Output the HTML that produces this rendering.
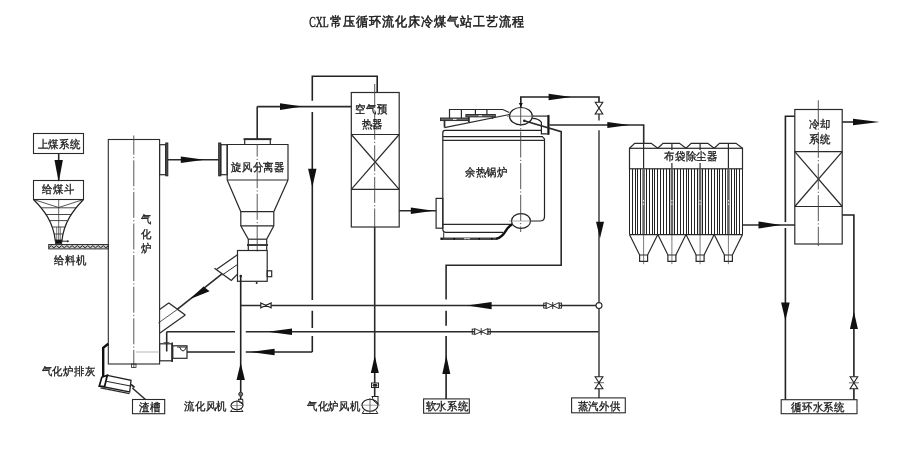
<!DOCTYPE html>
<html><head><meta charset="utf-8"><style>
html,body{margin:0;padding:0;background:#fff;}
svg{display:block;will-change:transform;}
text{font-family:"Liberation Serif",serif;fill:#1a1a1a;stroke:#1a1a1a;stroke-width:0.32px;}
</style></head><body>
<svg width="900" height="451" viewBox="0 0 900 451">
<rect width="900" height="451" fill="#fff"/>
<text x="309.3" y="26.6" font-size="14.5" textLength="19.5" lengthAdjust="spacingAndGlyphs" style="stroke-width:0.45px">CXL</text>
<text transform="translate(330.3,26.0) scale(0.93,1)" font-size="13.2" textLength="209" lengthAdjust="spacing" style="stroke-width:0.5px">常压循环流化床冷煤气站工艺流程</text>
<rect x="33.5" y="133.5" width="50" height="20" fill="none" stroke="#2a2a2a" stroke-width="1.1"/>
<text transform="translate(59,148.3) scale(0.945,1)" font-size="11" text-anchor="middle">上煤系统</text>
<line x1="58.7" y1="153.5" x2="58.7" y2="180.5" stroke="#2a2a2a" stroke-width="1.6"/>
<polygon points="54.5,160 58.7,182 62.9,160" fill="#111"/>
<rect x="33.5" y="180.5" width="50" height="19" fill="none" stroke="#2a2a2a" stroke-width="1.1"/>
<text transform="translate(58.5,192.8) scale(0.945,1)" font-size="11" text-anchor="middle">给煤斗</text>
<path d="M33.5,199.5 C44,210 53.5,222 55.4,241.5" fill="none" stroke="#222" stroke-width="1.2"/>
<path d="M83.5,199.5 C73.4,210 63.8,222 61.8,241.5" fill="none" stroke="#222" stroke-width="1.2"/>
<polyline points="33.5,199.5 58.7,207.5 83.5,199.5" fill="none" stroke="#2a2a2a" stroke-width="0.8"/>
<line x1="58.7" y1="199.5" x2="58.7" y2="241" stroke="#2a2a2a" stroke-width="0.7"/>
<line x1="41.1" y1="207.8" x2="76.1" y2="207.8" stroke="#333" stroke-width="0.9"/>
<line x1="46.1" y1="214.5" x2="71.2" y2="214.5" stroke="#333" stroke-width="0.9"/>
<line x1="49.5" y1="220.6" x2="67.8" y2="220.6" stroke="#333" stroke-width="0.9"/>
<line x1="52.2" y1="227" x2="65" y2="227" stroke="#333" stroke-width="0.9"/>
<line x1="54.2" y1="234" x2="63" y2="234" stroke="#333" stroke-width="0.9"/>
<line x1="56.7" y1="227" x2="56.7" y2="240" stroke="#444" stroke-width="0.7"/>
<line x1="60.3" y1="227" x2="60.3" y2="240" stroke="#444" stroke-width="0.7"/>
<rect x="55.4" y="240" width="6.4" height="3.5" fill="#111" stroke="#222" stroke-width="0.8"/>
<line x1="61.8" y1="241.2" x2="67.6" y2="241.2" stroke="#2a2a2a" stroke-width="1"/>
<circle cx="67.8" cy="241.2" r="1" fill="#222"/>
<rect x="48.7" y="244.5" width="59.6" height="4.4" fill="#ccc" stroke="#333" stroke-width="1"/>
<polyline points="48.7,247.8 51.3,245.6 53.9,247.8 56.5,245.6 59.1,247.8 61.7,245.6 64.3,247.8 66.9,245.6 69.5,247.8 72.1,245.6 74.7,247.8 77.3,245.6 79.9,247.8 82.5,245.6 85.1,247.8 87.7,245.6 90.3,247.8 92.9,245.6 95.5,247.8 98.1,245.6 100.7,247.8 103.3,245.6 105.9,247.8 108.5,245.6" fill="none" stroke="#222" stroke-width="1"/>
<text transform="translate(70.5,263.8) scale(0.945,1)" font-size="11" text-anchor="middle">给料机</text>
<rect x="108.3" y="139.5" width="51.3" height="224.5" fill="none" stroke="#2a2a2a" stroke-width="1.1"/>
<line x1="133.8" y1="135.5" x2="133.8" y2="368" stroke="#444" stroke-width="0.9" stroke-dasharray="26,2.2,1.2,2.2" stroke-dashoffset="6.8"/>
<text transform="translate(146.2,222.6) scale(0.945,1)" font-size="11" text-anchor="middle">气</text>
<text transform="translate(146.2,237.6) scale(0.945,1)" font-size="11" text-anchor="middle">化</text>
<text transform="translate(146.2,251.9) scale(0.945,1)" font-size="11" text-anchor="middle">炉</text>
<rect x="159.6" y="144.7" width="6.2" height="30" fill="none" stroke="#2a2a2a" stroke-width="1.2"/>
<rect x="165.8" y="143" width="2" height="32.8" fill="#555" stroke="#222" stroke-width="1"/>
<line x1="167.8" y1="159.7" x2="218.7" y2="159.7" stroke="#2a2a2a" stroke-width="1.6"/>
<polygon points="180.8,156.5 204.5,159.7 180.8,162.9" fill="#111"/>
<rect x="131.5" y="364" width="4.5" height="3.5" fill="none" stroke="#2a2a2a" stroke-width="0.8"/>
<rect x="159.6" y="343.8" width="12.4" height="17" fill="none" stroke="#2a2a2a" stroke-width="1.2"/>
<line x1="172.2" y1="342.5" x2="172.2" y2="362" stroke="#2a2a2a" stroke-width="1.6"/>
<rect x="172.8" y="345.8" width="14.2" height="12.5" fill="none" stroke="#2a2a2a" stroke-width="1.2"/>
<path d="M179.5,347 Q183,355 186.5,347" fill="none" stroke="#222" stroke-width="1"/>
<line x1="177" y1="347" x2="187" y2="347" stroke="#2a2a2a" stroke-width="1"/>
<line x1="166.7" y1="331.7" x2="166.7" y2="351.5" stroke="#2a2a2a" stroke-width="1.6"/>
<line x1="163.5" y1="342.5" x2="169.5" y2="342.5" stroke="#2a2a2a" stroke-width="0.7"/>
<line x1="136" y1="352" x2="159.6" y2="352" stroke="#999" stroke-width="0.7"/>
<polyline points="108.3,343.8 103.2,347.8 103.2,378" fill="none" stroke="#111" stroke-width="2.4"/>
<polygon points="107.3,375.3 131,380.3 129.7,392 99.3,386" fill="none" stroke="#222" stroke-width="1.3"/>
<polygon points="101.8,377.3 107.3,375.3 104.6,386.5 99.3,386" fill="#fff" stroke="#111" stroke-width="1.7"/>
<line x1="106" y1="381.3" x2="130.5" y2="386" stroke="#2a2a2a" stroke-width="1.1"/>
<line x1="100.5" y1="387.9" x2="129.5" y2="393.6" stroke="#2a2a2a" stroke-width="1.2"/>
<line x1="131" y1="384.3" x2="134.5" y2="387.5" stroke="#2a2a2a" stroke-width="1.8"/>
<line x1="132.3" y1="388" x2="145.5" y2="399.5" stroke="#2a2a2a" stroke-width="1.5"/>
<rect x="132.5" y="399.5" width="32.2" height="14.2" fill="none" stroke="#2a2a2a" stroke-width="1.1"/>
<text transform="translate(150.1,410.8) scale(0.945,1)" font-size="11" text-anchor="middle">渣槽</text>
<text transform="translate(68.5,375.3) scale(0.945,1)" font-size="11" text-anchor="middle">气化炉排灰</text>
<rect x="218.7" y="143" width="2.1" height="32.8" fill="#555" stroke="#222" stroke-width="1"/>
<rect x="220.8" y="144.7" width="6.4" height="30" fill="none" stroke="#2a2a2a" stroke-width="1.2"/>
<polyline points="227.2,180 227.2,144.5 288,144.5 288,180" fill="none" stroke="#2a2a2a" stroke-width="1.2"/>
<line x1="227.2" y1="180" x2="288" y2="180" stroke="#2a2a2a" stroke-width="1.2"/>
<polyline points="244.7,144.5 244.7,139.2 270.3,139.2 270.3,144.5" fill="none" stroke="#2a2a2a" stroke-width="1.2"/>
<line x1="243.5" y1="139.2" x2="271.5" y2="139.2" stroke="#2a2a2a" stroke-width="1.8"/>
<polyline points="227.2,180 240.8,211.7 240.8,225.8 248.3,239.2 248.3,250.5" fill="none" stroke="#2a2a2a" stroke-width="1.2"/>
<polyline points="288,180 273.8,211.7 273.8,225.8 266.7,239.2 266.7,250.5" fill="none" stroke="#2a2a2a" stroke-width="1.2"/>
<line x1="240.8" y1="211.7" x2="273.8" y2="211.7" stroke="#2a2a2a" stroke-width="1.2"/>
<line x1="240.8" y1="225.8" x2="273.8" y2="225.8" stroke="#2a2a2a" stroke-width="1.2"/>
<line x1="248.3" y1="239.2" x2="266.7" y2="239.2" stroke="#2a2a2a" stroke-width="1.2"/>
<line x1="247" y1="245" x2="268" y2="245" stroke="#2a2a2a" stroke-width="1.8"/>
<line x1="257.2" y1="144.5" x2="257.2" y2="252" stroke="#444" stroke-width="0.9" stroke-dasharray="26,2.2,1.2,2.2" stroke-dashoffset="13.9"/>
<text transform="translate(258,171.3) scale(0.945,1)" font-size="11" text-anchor="middle">旋风分离器</text>
<rect x="237.5" y="250.5" width="29.7" height="30.8" fill="none" stroke="#2a2a2a" stroke-width="1.2"/>
<rect x="267.2" y="270.8" width="4.5" height="5.9" fill="none" stroke="#2a2a2a" stroke-width="1.2"/>
<circle cx="256.7" cy="283" r="1" fill="#222"/>
<circle cx="240.8" cy="276" r="1.3" fill="#222"/>
<polyline points="237.5,254.7 216.7,269.2" fill="none" stroke="#2a2a2a" stroke-width="1.2"/>
<polyline points="237.5,264.5 222.5,274.8" fill="none" stroke="#2a2a2a" stroke-width="1"/>
<polyline points="237.5,274.2 231.7,280" fill="none" stroke="#2a2a2a" stroke-width="1.2"/>
<line x1="214.5" y1="268.2" x2="231.7" y2="280.8" stroke="#2a2a2a" stroke-width="1.4"/>
<line x1="159.6" y1="309.5" x2="168.7" y2="303" stroke="#2a2a2a" stroke-width="1.2"/>
<line x1="158.3" y1="323" x2="178" y2="309" stroke="#2a2a2a" stroke-width="0.8"/>
<line x1="159.6" y1="333.3" x2="185.3" y2="315" stroke="#2a2a2a" stroke-width="1.2"/>
<line x1="168.5" y1="302.8" x2="185.3" y2="315" stroke="#2a2a2a" stroke-width="1.4"/>
<line x1="221.7" y1="274.2" x2="177.5" y2="309.2" stroke="#2a2a2a" stroke-width="1.6"/>
<polygon points="190.3,299 203.5,286.4 209.6,291.2" fill="#111"/>
<line x1="257.2" y1="139.2" x2="257.2" y2="106.6" stroke="#2a2a2a" stroke-width="1.6"/>
<line x1="257.2" y1="106.6" x2="351.3" y2="106.6" stroke="#2a2a2a" stroke-width="1.6"/>
<polygon points="280,103.3 302.3,106.6 280,109.9" fill="#111"/>
<path d="M312.3,352 V336 M312.3,328 V310.7 M312.3,300 V112 M312.3,100.8 V76.2 H377.2 V92.5" fill="none" stroke="#222" stroke-width="1.6"/>
<polygon points="308.1,168.7 312.3,187.3 316.5,168.7" fill="#111"/>
<path d="M187,352 H235 M245.8,352 H312.3" fill="none" stroke="#222" stroke-width="1.6"/>
<polygon points="274.6,348.7 250.5,352 274.6,355.3" fill="#111"/>
<rect x="351.3" y="92.5" width="47.9" height="134.5" fill="none" stroke="#2a2a2a" stroke-width="1.2"/>
<line x1="351.3" y1="134.5" x2="399.2" y2="134.5" stroke="#2a2a2a" stroke-width="1.2"/>
<line x1="351.3" y1="189.3" x2="399.2" y2="189.3" stroke="#2a2a2a" stroke-width="1.2"/>
<line x1="351.3" y1="134.5" x2="399.2" y2="189.3" stroke="#2a2a2a" stroke-width="1.2"/>
<line x1="399.2" y1="134.5" x2="351.3" y2="189.3" stroke="#2a2a2a" stroke-width="1.2"/>
<line x1="374.7" y1="84" x2="374.7" y2="227" stroke="#444" stroke-width="0.9" stroke-dasharray="26,2.2,1.2,2.2" stroke-dashoffset="1.9"/>
<line x1="374.7" y1="227" x2="374.7" y2="396.5" stroke="#2a2a2a" stroke-width="1.6"/>
<text transform="translate(371.5,112.8) scale(0.945,1)" font-size="11" text-anchor="middle">空气预</text>
<text transform="translate(372.2,127.8) scale(0.945,1)" font-size="11" text-anchor="middle">热器</text>
<line x1="399.2" y1="210.8" x2="436.1" y2="210.8" stroke="#2a2a2a" stroke-width="1.6"/>
<polygon points="410.8,207.5 433.5,210.8 410.8,214.1" fill="#111"/>
<polygon points="370.8,373 374.8,355.8 378.8,373" fill="#111"/>
<rect x="371.5" y="383" width="7" height="4.5" fill="#fff" stroke="#222" stroke-width="1"/>
<ellipse cx="375" cy="385.3" rx="2.6" ry="1.5" fill="#222"/>
<path d="M371.5,396.5 H378.5 M372.5,396.5 Q372,401 377.8,404 M378,396.5 V405" fill="none" stroke="#222" stroke-width="1"/>
<ellipse cx="370" cy="405.2" rx="8" ry="6" fill="none" stroke="#222" stroke-width="1.1"/>
<line x1="360.5" y1="405.2" x2="380" y2="405.2" stroke="#666" stroke-width="0.6"/>
<line x1="370" y1="398" x2="370" y2="413" stroke="#444" stroke-width="0.8"/>
<polyline points="364,410.5 362.2,413.5 377.8,413.5 376,410.5" fill="none" stroke="#2a2a2a" stroke-width="1"/>
<text transform="translate(333.7,409.8) scale(0.945,1)" font-size="11" text-anchor="middle">气化炉风机</text>
<path d="M240.7,276 V392.5 M240.7,396 V399.5" fill="none" stroke="#222" stroke-width="1.6"/>
<polygon points="236.5,380 240.7,362.7 244.9,380" fill="#111"/>
<path d="M166.7,331.7 H235 M245.8,331.7 H598.5" fill="none" stroke="#2a2a2a" stroke-width="1.4"/>
<polygon points="292,328.4 267.8,331.7 292,335" fill="#111"/>
<path d="M240.8,305.5 H599" fill="none" stroke="#2a2a2a" stroke-width="1.3"/>
<polygon points="260.8,303 271.1,307.9 271.1,303 260.8,307.9" fill="#fff" stroke="#222" stroke-width="1.2"/>
<circle cx="240.7" cy="394.2" r="2" fill="#777" stroke="#222" stroke-width="0.9"/>
<path d="M238,399.3 H243 M238.5,399.3 Q238,402.5 242.5,404 M242.8,399.3 V405" fill="none" stroke="#222" stroke-width="1"/>
<ellipse cx="237" cy="405.5" rx="6" ry="4.2" fill="none" stroke="#222" stroke-width="1.1"/>
<line x1="230" y1="405.5" x2="244" y2="405.5" stroke="#666" stroke-width="0.6"/>
<line x1="237" y1="400" x2="237" y2="412" stroke="#444" stroke-width="0.8"/>
<polyline points="232,409.5 230.5,411.5 243,411.5 241.5,409.5" fill="none" stroke="#2a2a2a" stroke-width="1"/>
<text transform="translate(205.5,410.3) scale(0.945,1)" font-size="11" text-anchor="middle">流化风机</text>
<path d="M503,232.3 H446 Q442.8,232.3 442.8,229 V133 Q442.8,130.3 445,130.3 H541 M442.8,136.7 H542.3 L544.5,138.9 V216.5 Q544.5,221 540,221 H530.5" fill="none" stroke="#222" stroke-width="1.2"/>
<line x1="442.8" y1="140.4" x2="544.5" y2="140.4" stroke="#2a2a2a" stroke-width="1.2"/>
<line x1="442.8" y1="224.3" x2="512" y2="224.3" stroke="#2a2a2a" stroke-width="1.2"/>
<line x1="444.5" y1="127.6" x2="509.5" y2="114.5" stroke="#2a2a2a" stroke-width="1.2"/>
<polyline points="449.5,118 449.5,109.5 502.8,109.5 509.3,112.5" fill="none" stroke="#2a2a2a" stroke-width="1.2"/>
<line x1="461.4" y1="109.5" x2="461.4" y2="118" stroke="#2a2a2a" stroke-width="1.2"/>
<line x1="475.4" y1="109.5" x2="475.4" y2="114.5" stroke="#2a2a2a" stroke-width="1.2"/>
<line x1="486.9" y1="109.5" x2="486.9" y2="114.5" stroke="#2a2a2a" stroke-width="1.2"/>
<rect x="440.5" y="118" width="27.9" height="2.6" fill="#666" stroke="#222" stroke-width="0.9"/>
<rect x="465.9" y="114.5" width="29.4" height="2.4" fill="#666" stroke="#222" stroke-width="0.9"/>
<rect x="453" y="118.9" width="3.5" height="0.9" fill="#fff"/>
<rect x="478.5" y="115.3" width="3.5" height="0.9" fill="#fff"/>
<line x1="444.5" y1="120.6" x2="444.5" y2="127.4" stroke="#2a2a2a" stroke-width="1.7"/>
<line x1="468.9" y1="116.9" x2="468.9" y2="122.4" stroke="#2a2a2a" stroke-width="1.7"/>
<line x1="492.4" y1="116.9" x2="492.4" y2="118.8" stroke="#2a2a2a" stroke-width="1.5"/>
<path d="M532.3,118.3 Q539,118.5 541.4,122.3 V133.8 H547.6" fill="none" stroke="#222" stroke-width="1.2"/>
<line x1="532.5" y1="116.1" x2="547.6" y2="116.1" stroke="#2a2a2a" stroke-width="1.2"/>
<rect x="547.6" y="115.2" width="1.6" height="19.5" fill="#111" stroke="#222" stroke-width="0.5"/>
<ellipse cx="520.9" cy="116.2" rx="11.4" ry="8.7" fill="#fff" stroke="#222" stroke-width="1.2"/>
<ellipse cx="521" cy="221" rx="9.5" ry="7.3" fill="#fff" stroke="#222" stroke-width="1.2"/>
<line x1="520.7" y1="100" x2="520.7" y2="232" stroke="#444" stroke-width="0.9" stroke-dasharray="26,2.2,1.2,2.2" stroke-dashoffset="0"/>
<line x1="507" y1="116.2" x2="534" y2="116.2" stroke="#555" stroke-width="0.8"/>
<line x1="509" y1="221" x2="532" y2="221" stroke="#777" stroke-width="0.6"/>
<rect x="436.1" y="198.4" width="6.7" height="29.8" fill="none" stroke="#2a2a2a" stroke-width="1.2"/>
<line x1="440.3" y1="238.8" x2="497" y2="238.8" stroke="#444" stroke-width="2.4"/>
<line x1="441" y1="238.8" x2="497" y2="238.8" stroke="#000" stroke-width="1.6" stroke-dasharray="1.5,11"/>
<rect x="464" y="238.2" width="6" height="1" fill="#ddd"/>
<path d="M512.3,224.3 C505,227 506,237 496.3,238.8" fill="none" stroke="#111" stroke-width="2.4"/>
<line x1="443.7" y1="232.3" x2="443.7" y2="238" stroke="#2a2a2a" stroke-width="1"/>
<text transform="translate(486.3,176.3) scale(0.945,1)" font-size="11" text-anchor="middle">余热锅炉</text>
<path d="M520.8,107.5 V97 H599 V102" fill="none" stroke="#222" stroke-width="1.6"/>
<polygon points="548.6,93.7 571.2,97 548.6,100.3" fill="#111"/>
<polygon points="518.8,103 522.8,103 520.8,107" fill="#111"/>
<line x1="549.4" y1="125" x2="643.7" y2="125" stroke="#2a2a2a" stroke-width="1.6"/>
<line x1="643.7" y1="124.4" x2="643.7" y2="143.4" stroke="#2a2a2a" stroke-width="1.6"/>
<polygon points="607.3,121.9 629.5,125 607.3,128.1" fill="#111"/>
<polyline points="524.2,120.8 561.2,131.7 561.2,265.3 446.1,265.3 446.1,299.6" fill="none" stroke="#2a2a2a" stroke-width="1.6"/>
<circle cx="524.2" cy="120.8" r="1.2" fill="#222"/>
<path d="M446.1,310.8 V325.7 M446.1,336 V398.9" fill="none" stroke="#222" stroke-width="1.6"/>
<polygon points="442.3,374 446.3,355.5 450.3,374" fill="#111"/>
<rect x="423.6" y="398.9" width="45.7" height="14.3" fill="none" stroke="#2a2a2a" stroke-width="1.1"/>
<text transform="translate(447,410.3) scale(0.945,1)" font-size="11" text-anchor="middle">软水系统</text>
<polygon points="491.6,302 467,305.6 491.6,309.2" fill="#111"/>
<g stroke="#222" stroke-width="0.9" fill="none"><rect x="543.7" y="303.1" width="2.5" height="5"/><rect x="559.1" y="303.1" width="2.5" height="5"/><polygon points="546.2,302.6 559.1,308.6 559.1,302.6 546.2,308.6" fill="#fff"/><line x1="552.7" y1="302.1" x2="552.7" y2="309.1"/></g>
<g stroke="#222" stroke-width="0.9" fill="none"><rect x="472.2" y="329.1" width="2.5" height="5"/><rect x="487.8" y="329.1" width="2.5" height="5"/><polygon points="474.7,328.6 487.8,334.6 487.8,328.6 474.7,334.6" fill="#fff"/><line x1="481.2" y1="328.1" x2="481.2" y2="335.1"/></g>
<path d="M599,114 V120.5 M599,130.2 V302.3 M599,308.9 V397.9" fill="none" stroke="#2a2a2a" stroke-width="1.35"/>
<polygon points="595.2,102.2 602.8,114 595.2,114 602.8,102.2" fill="#fff" stroke="#222" stroke-width="1.1"/>
<polygon points="596,221.7 600,238.2 604,221.7" fill="#111"/>
<circle cx="599" cy="305.6" r="3" fill="#fff" stroke="#2a2a2a" stroke-width="1.1"/>
<polygon points="595.1,376.7 602.9,388.7 595.1,388.7 602.9,376.7" fill="#fff" stroke="#222" stroke-width="1.1"/>
<line x1="594" y1="382.7" x2="604" y2="382.7" stroke="#2a2a2a" stroke-width="0.7"/>
<rect x="571.6" y="397.9" width="53.7" height="14.9" fill="none" stroke="#2a2a2a" stroke-width="1.1"/>
<text transform="translate(599,409.8) scale(0.945,1)" font-size="11" text-anchor="middle">蒸汽外供</text>
<polyline points="629.5,148.3 634.7,143.3 651.2,143.3 657.8,148.3" fill="none" stroke="#2a2a2a" stroke-width="1.2"/>
<polyline points="657.8,148.3 663,143.3 679.5,143.3 686,148.3" fill="none" stroke="#2a2a2a" stroke-width="1.2"/>
<polyline points="686,148.3 691.2,143.3 707.8,143.3 714.2,148.3" fill="none" stroke="#2a2a2a" stroke-width="1.2"/>
<polyline points="714.2,148.3 719.5,143.3 736,143.3 742.5,148.3" fill="none" stroke="#2a2a2a" stroke-width="1.2"/>
<rect x="629.5" y="148.3" width="113" height="20.5" fill="none" stroke="#2a2a2a" stroke-width="1.2"/>
<line x1="643.6" y1="143.3" x2="643.6" y2="168.8" stroke="#2a2a2a" stroke-width="1.2"/>
<line x1="671.9" y1="143.3" x2="671.9" y2="168.8" stroke="#2a2a2a" stroke-width="1.2"/>
<line x1="700.1" y1="143.3" x2="700.1" y2="168.8" stroke="#2a2a2a" stroke-width="1.2"/>
<line x1="728.4" y1="143.3" x2="728.4" y2="168.8" stroke="#2a2a2a" stroke-width="1.2"/>
<line x1="629.5" y1="168.8" x2="629.5" y2="234.6" stroke="#222" stroke-width="1"/>
<line x1="632.5" y1="168.8" x2="632.5" y2="234.6" stroke="#222" stroke-width="1"/>
<line x1="635.5" y1="168.8" x2="635.5" y2="234.6" stroke="#222" stroke-width="1"/>
<line x1="637.5" y1="168.8" x2="637.5" y2="234.6" stroke="#222" stroke-width="1"/>
<line x1="640.5" y1="168.8" x2="640.5" y2="234.6" stroke="#222" stroke-width="1"/>
<rect x="642.3" y="168.8" width="2.6" height="65.8" fill="#666"/>
<rect x="643.2" y="200" width="0.8" height="1.5" fill="#fff"/>
<rect x="643.2" y="203.5" width="0.8" height="1.5" fill="#fff"/>
<line x1="646.5" y1="168.8" x2="646.5" y2="234.6" stroke="#222" stroke-width="1"/>
<line x1="649.5" y1="168.8" x2="649.5" y2="234.6" stroke="#222" stroke-width="1"/>
<line x1="652.5" y1="168.8" x2="652.5" y2="234.6" stroke="#222" stroke-width="1"/>
<line x1="654.5" y1="168.8" x2="654.5" y2="234.6" stroke="#222" stroke-width="1"/>
<line x1="657.5" y1="168.8" x2="657.5" y2="234.6" stroke="#222" stroke-width="1"/>
<line x1="660.5" y1="168.8" x2="660.5" y2="234.6" stroke="#222" stroke-width="1"/>
<line x1="663.5" y1="168.8" x2="663.5" y2="234.6" stroke="#222" stroke-width="1"/>
<line x1="666.5" y1="168.8" x2="666.5" y2="234.6" stroke="#222" stroke-width="1"/>
<line x1="669.5" y1="168.8" x2="669.5" y2="234.6" stroke="#222" stroke-width="1"/>
<rect x="670.6" y="168.8" width="2.6" height="65.8" fill="#666"/>
<rect x="671.5" y="200" width="0.8" height="1.5" fill="#fff"/>
<rect x="671.5" y="203.5" width="0.8" height="1.5" fill="#fff"/>
<line x1="674.5" y1="168.8" x2="674.5" y2="234.6" stroke="#222" stroke-width="1"/>
<line x1="677.5" y1="168.8" x2="677.5" y2="234.6" stroke="#222" stroke-width="1"/>
<line x1="680.5" y1="168.8" x2="680.5" y2="234.6" stroke="#222" stroke-width="1"/>
<line x1="683.5" y1="168.8" x2="683.5" y2="234.6" stroke="#222" stroke-width="1"/>
<line x1="686.5" y1="168.8" x2="686.5" y2="234.6" stroke="#222" stroke-width="1"/>
<line x1="688.5" y1="168.8" x2="688.5" y2="234.6" stroke="#222" stroke-width="1"/>
<line x1="691.5" y1="168.8" x2="691.5" y2="234.6" stroke="#222" stroke-width="1"/>
<line x1="694.5" y1="168.8" x2="694.5" y2="234.6" stroke="#222" stroke-width="1"/>
<line x1="697.5" y1="168.8" x2="697.5" y2="234.6" stroke="#222" stroke-width="1"/>
<rect x="698.8" y="168.8" width="2.6" height="65.8" fill="#666"/>
<rect x="699.7" y="200" width="0.8" height="1.5" fill="#fff"/>
<rect x="699.7" y="203.5" width="0.8" height="1.5" fill="#fff"/>
<line x1="702.5" y1="168.8" x2="702.5" y2="234.6" stroke="#222" stroke-width="1"/>
<line x1="705.5" y1="168.8" x2="705.5" y2="234.6" stroke="#222" stroke-width="1"/>
<line x1="708.5" y1="168.8" x2="708.5" y2="234.6" stroke="#222" stroke-width="1"/>
<line x1="711.5" y1="168.8" x2="711.5" y2="234.6" stroke="#222" stroke-width="1"/>
<line x1="714.5" y1="168.8" x2="714.5" y2="234.6" stroke="#222" stroke-width="1"/>
<line x1="717.5" y1="168.8" x2="717.5" y2="234.6" stroke="#222" stroke-width="1"/>
<line x1="719.5" y1="168.8" x2="719.5" y2="234.6" stroke="#222" stroke-width="1"/>
<line x1="722.5" y1="168.8" x2="722.5" y2="234.6" stroke="#222" stroke-width="1"/>
<line x1="725.5" y1="168.8" x2="725.5" y2="234.6" stroke="#222" stroke-width="1"/>
<rect x="727.1" y="168.8" width="2.6" height="65.8" fill="#666"/>
<rect x="728" y="200" width="0.8" height="1.5" fill="#fff"/>
<rect x="728" y="203.5" width="0.8" height="1.5" fill="#fff"/>
<line x1="731.5" y1="168.8" x2="731.5" y2="234.6" stroke="#222" stroke-width="1"/>
<line x1="734.5" y1="168.8" x2="734.5" y2="234.6" stroke="#222" stroke-width="1"/>
<line x1="736.5" y1="168.8" x2="736.5" y2="234.6" stroke="#222" stroke-width="1"/>
<line x1="739.5" y1="168.8" x2="739.5" y2="234.6" stroke="#222" stroke-width="1"/>
<line x1="742.5" y1="168.8" x2="742.5" y2="234.6" stroke="#222" stroke-width="1"/>
<line x1="629.5" y1="234.6" x2="742.5" y2="234.6" stroke="#2a2a2a" stroke-width="1.2"/>
<polyline points="629.5,234.6 639.6,255 647.6,255 657.8,234.6" fill="none" stroke="#2a2a2a" stroke-width="1.2"/>
<polyline points="639.6,255 639.6,261.3 647.6,261.3 647.6,255" fill="none" stroke="#2a2a2a" stroke-width="1.2"/>
<line x1="643.6" y1="234.6" x2="643.6" y2="264.2" stroke="#444" stroke-width="0.7"/>
<polyline points="657.8,234.6 667.9,255 675.9,255 686,234.6" fill="none" stroke="#2a2a2a" stroke-width="1.2"/>
<polyline points="667.9,255 667.9,261.3 675.9,261.3 675.9,255" fill="none" stroke="#2a2a2a" stroke-width="1.2"/>
<line x1="671.9" y1="234.6" x2="671.9" y2="264.2" stroke="#444" stroke-width="0.7"/>
<polyline points="686,234.6 696.1,255 704.1,255 714.2,234.6" fill="none" stroke="#2a2a2a" stroke-width="1.2"/>
<polyline points="696.1,255 696.1,261.3 704.1,261.3 704.1,255" fill="none" stroke="#2a2a2a" stroke-width="1.2"/>
<line x1="700.1" y1="234.6" x2="700.1" y2="264.2" stroke="#444" stroke-width="0.7"/>
<polyline points="714.2,234.6 724.4,255 732.4,255 742.5,234.6" fill="none" stroke="#2a2a2a" stroke-width="1.2"/>
<polyline points="724.4,255 724.4,261.3 732.4,261.3 732.4,255" fill="none" stroke="#2a2a2a" stroke-width="1.2"/>
<line x1="728.4" y1="234.6" x2="728.4" y2="264.2" stroke="#444" stroke-width="0.7"/>
<rect x="663" y="150" width="55" height="13" fill="#fff"/>
<text transform="translate(691,159.8) scale(0.945,1)" font-size="11" text-anchor="middle">布袋除尘器</text>
<line x1="742.5" y1="225" x2="795" y2="225" stroke="#2a2a2a" stroke-width="1.6"/>
<polygon points="758.5,221.5 781,225 758.5,228.5" fill="#111"/>
<rect x="794.8" y="109.5" width="47.4" height="134.5" fill="none" stroke="#2a2a2a" stroke-width="1.2"/>
<line x1="794.8" y1="151.6" x2="842.2" y2="151.6" stroke="#2a2a2a" stroke-width="1.2"/>
<line x1="794.8" y1="206.5" x2="842.2" y2="206.5" stroke="#2a2a2a" stroke-width="1.2"/>
<line x1="794.8" y1="151.6" x2="842.2" y2="206.5" stroke="#2a2a2a" stroke-width="1.2"/>
<line x1="842.2" y1="151.6" x2="794.8" y2="206.5" stroke="#2a2a2a" stroke-width="1.2"/>
<line x1="818.3" y1="100.3" x2="818.3" y2="246" stroke="#444" stroke-width="0.9" stroke-dasharray="26,2.2,1.2,2.2" stroke-dashoffset="0"/>
<text transform="translate(820,127.8) scale(0.945,1)" font-size="11" text-anchor="middle">冷却</text>
<text transform="translate(820,142.8) scale(0.945,1)" font-size="11" text-anchor="middle">系统</text>
<path d="M794.8,116.2 H785.4 V222 M785.4,228 V399.7" fill="none" stroke="#222" stroke-width="1.6"/>
<polygon points="781.1,302.4 785.4,320.5 789.7,302.4" fill="#111"/>
<path d="M842.2,215 H853.9 V376.7 M853.9,388.8 V399.7" fill="none" stroke="#222" stroke-width="1.6"/>
<polygon points="849.9,329 853.9,311.5 857.9,329" fill="#111"/>
<polygon points="850.1,376.7 857.7,388.8 850.1,388.8 857.7,376.7" fill="#fff" stroke="#222" stroke-width="1.1"/>
<line x1="848.9" y1="382.8" x2="858.9" y2="382.8" stroke="#2a2a2a" stroke-width="0.7"/>
<line x1="842.2" y1="122" x2="853" y2="122" stroke="#2a2a2a" stroke-width="1.6"/>
<polygon points="853,118.8 879.5,122 853,125.2" fill="#111"/>
<rect x="781.2" y="399.7" width="75.8" height="14" fill="none" stroke="#2a2a2a" stroke-width="1.1"/>
<text transform="translate(818,410.5) scale(0.945,1)" font-size="11" text-anchor="middle">循环水系统</text>
</svg></body></html>
